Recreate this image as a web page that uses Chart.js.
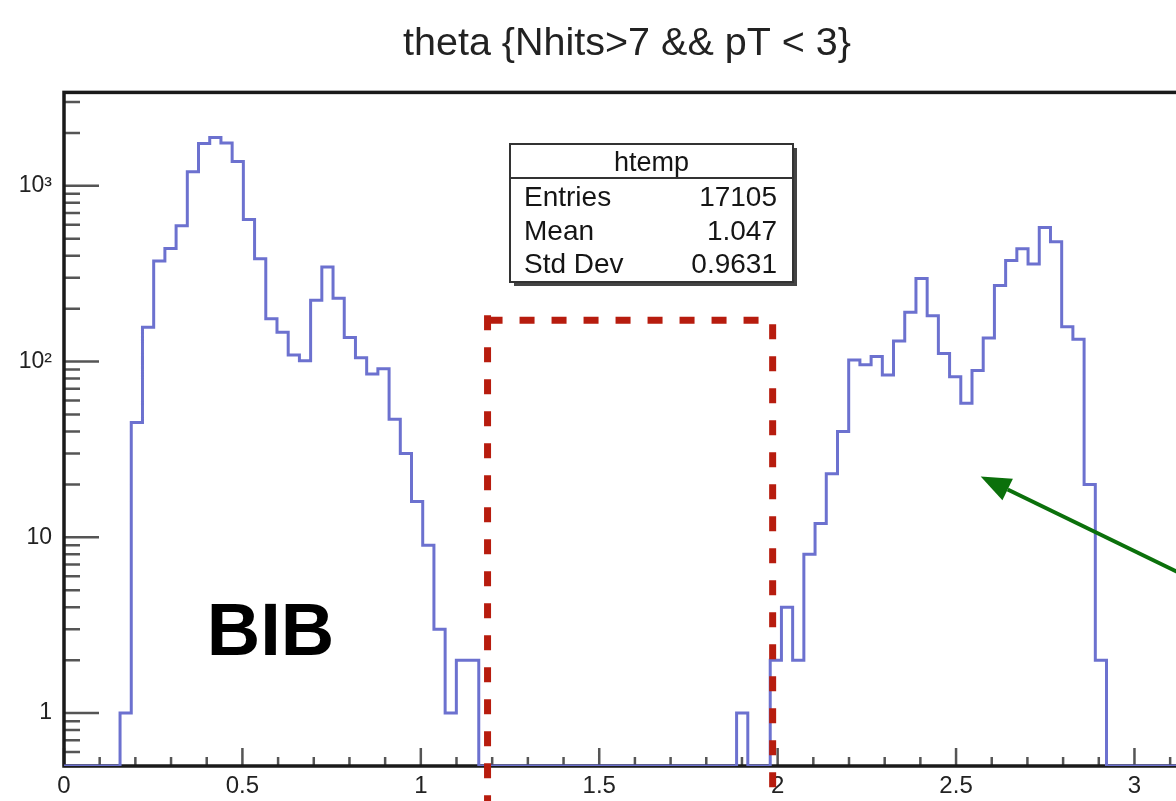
<!DOCTYPE html>
<html>
<head>
<meta charset="utf-8">
<script src="https://cdn.jsdelivr.net/npm/chart.js@4"></script>
<style>
  html, body { margin: 0; padding: 0; background: #fff; overflow: hidden; }
  #wrap { width: 1254px; height: 801px; }
</style>
</head>
<body>
<div id="wrap"><canvas id="canvas-theta" width="1254" height="801"></canvas></div>
<script>
// histogram range: 100 bins over [0, pi]
const X_MIN = 0;
const X_MAX = Math.PI;
const N_BINS = 100;
const AXIS_X_MAX = 3.335;   // frame runs past the right edge of the picture
const Y_MIN = 0.5;
const Y_MAX = 3400;

// bin contents (bins 0..99)
const COUNTS = [
  0, 0, 0, 0, 0, 1, 45, 157, 374, 440,
  593, 1201, 1738, 1884, 1755, 1374, 644, 384, 175, 147,
  109, 101, 223, 345, 229, 137, 105, 85, 91, 47,
  30, 16, 9, 3, 1, 2, 2, 0, 0, 0,
  0, 0, 0, 0, 0, 0, 0, 0, 0, 0,
  0, 0, 0, 0, 0, 0, 0, 0, 0, 0,
  1, 0, 0, 2, 4, 2, 8, 12, 23, 40,
  102, 96, 107, 84, 131, 191, 297, 182, 111, 82,
  58, 89, 136, 271, 376, 439, 359, 580, 480, 158,
  134, 20, 2, 0, 0, 0, 0, 0, 0, 0
];

const X_TICKS = [0, 0.5, 1, 1.5, 2, 2.5, 3];
const Y_TICKS = [1, 10, 100, 1000];
const Y_LABELS = ['1', '10', '10\u00B2', '10\u00B3'];

const TITLE = 'theta {Nhits>7 && pT < 3}';
const STAT_NAME = 'htemp';
const STAT_LABELS = ['Entries', 'Mean', 'Std Dev'];
const STAT_VALUES = ['17105', '1.047', '0.9631'];

// annotations (data coordinates)
const CUT_BOX = { x0: 1.187, x1: 1.986, yTop: 172 };
const ARROW = { tipX: 2.569, tipY: 22.2, tailX: 3.2, tailY: 5.3 };
const BIB_LABEL = { text: 'BIB', x: 0.40, y: 2.15 };

const FONT = '"Liberation Sans", Arial, Helvetica, sans-serif';

const binW = (X_MAX - X_MIN) / N_BINS;
const points = COUNTS.map((c, i) => ({ x: X_MIN + i * binW, y: c > 0 ? c : Y_MIN }));
points.push({ x: X_MAX, y: points[points.length - 1].y });

// ROOT style frame with inward ticks
const rootFrame = {
  id: 'rootFrame',
  beforeDatasetsDraw(chart) {
    const { ctx, chartArea: a, scales: { x, y } } = chart;
    ctx.save();
    ctx.strokeStyle = '#555';
    ctx.lineWidth = 2.5;
    ctx.beginPath();
    for (let i = 0; i <= 33; i++) {
      const px = x.getPixelForValue(i / 10);
      ctx.moveTo(px, a.bottom);
      ctx.lineTo(px, a.bottom - (i % 5 === 0 ? 18 : 9));
    }
    for (let d = -1; d <= 3; d++) {
      for (let k = 1; k <= 9; k++) {
        const v = k * Math.pow(10, d);
        if (v < Y_MIN || v > Y_MAX) continue;
        const py = y.getPixelForValue(v);
        ctx.moveTo(a.left, py);
        ctx.lineTo(a.left + (k === 1 ? 35 : 16), py);
      }
    }
    ctx.stroke();
    ctx.strokeStyle = '#1a1a1a';
    ctx.lineWidth = 3.5;
    ctx.strokeRect(a.left, a.top, a.width, a.height);
    ctx.restore();
  }
};

const annotations = {
  id: 'annotations',
  afterDraw(chart) {
    const { ctx, scales: { x, y } } = chart;
    const H = chart.height;
    ctx.save();

    // red dashed cut window
    const L = x.getPixelForValue(CUT_BOX.x0);
    const R = x.getPixelForValue(CUT_BOX.x1);
    const T = y.getPixelForValue(CUT_BOX.yTop);
    ctx.strokeStyle = '#b71c0e';
    ctx.lineWidth = 7;
    ctx.setLineDash([15, 17]);
    ctx.beginPath();
    ctx.moveTo(L, T - 5); ctx.lineTo(L, H);
    ctx.moveTo(L, T); ctx.lineTo(R, T);
    ctx.moveTo(R, T + 4); ctx.lineTo(R, H);
    ctx.stroke();
    ctx.setLineDash([]);

    // green arrow
    const tx = x.getPixelForValue(ARROW.tipX), ty = y.getPixelForValue(ARROW.tipY);
    const sx = x.getPixelForValue(ARROW.tailX), sy = y.getPixelForValue(ARROW.tailY);
    const ang = Math.atan2(ty - sy, tx - sx);
    const headLen = 30, headW = 12;
    const bx = tx - headLen * Math.cos(ang), by = ty - headLen * Math.sin(ang);
    ctx.strokeStyle = '#0b700b';
    ctx.fillStyle = '#0b700b';
    ctx.lineWidth = 4;
    ctx.beginPath();
    ctx.moveTo(sx, sy); ctx.lineTo(bx, by);
    ctx.stroke();
    ctx.beginPath();
    ctx.moveTo(tx, ty);
    ctx.lineTo(bx + headW * Math.sin(ang), by - headW * Math.cos(ang));
    ctx.lineTo(bx - headW * Math.sin(ang), by + headW * Math.cos(ang));
    ctx.closePath();
    ctx.fill();

    // BIB label
    ctx.fillStyle = '#000';
    ctx.font = 'bold 74px ' + FONT;
    ctx.textAlign = 'left';
    ctx.textBaseline = 'alphabetic';
    ctx.fillText(BIB_LABEL.text, x.getPixelForValue(BIB_LABEL.x), y.getPixelForValue(BIB_LABEL.y));

    // stats box
    const bxL = 510, bxT = 144, bxW = 283, bxH = 138;
    ctx.fillStyle = '#444';
    ctx.fillRect(bxL + 4, bxT + 4, bxW, bxH);
    ctx.fillStyle = '#fff';
    ctx.fillRect(bxL, bxT, bxW, bxH);
    ctx.strokeStyle = '#333';
    ctx.lineWidth = 2;
    ctx.strokeRect(bxL, bxT, bxW, bxH);
    ctx.beginPath();
    ctx.moveTo(bxL, bxT + 34); ctx.lineTo(bxL + bxW, bxT + 34);
    ctx.stroke();
    ctx.fillStyle = '#151515';
    ctx.font = '27px ' + FONT;
    ctx.textAlign = 'center';
    ctx.fillText(STAT_NAME, bxL + bxW / 2, bxT + 27);
    ctx.font = '28px ' + FONT;
    STAT_LABELS.forEach((lab, i) => {
      const base = bxT + 62 + i * 33.5;
      ctx.textAlign = 'left';
      ctx.fillText(lab, bxL + 14, base);
      ctx.textAlign = 'right';
      ctx.fillText(STAT_VALUES[i], bxL + bxW - 16, base);
    });
    ctx.restore();
  }
};

const ctx = document.getElementById('canvas-theta').getContext('2d');
new Chart(ctx, {
  type: 'line',
  data: {
    datasets: [{
      label: 'htemp',
      data: points,
      borderColor: '#6c71cf',
      borderWidth: 3,
      pointRadius: 0,
      stepped: true,
      fill: false,
      tension: 0
    }]
  },
  options: {
    responsive: false,
    animation: false,
    devicePixelRatio: 1,
    layout: { padding: 0 },
    scales: {
      x: {
        type: 'linear',
        min: X_MIN,
        max: AXIS_X_MAX,
        grid: { display: false, drawTicks: false },
        border: { display: false },
        afterBuildTicks: s => { s.ticks = X_TICKS.map(v => ({ value: v })); },
        afterFit: s => { s.height = 35; },
        ticks: {
          padding: 6,
          maxRotation: 0,
          autoSkip: false,
          color: '#222',
          font: { family: FONT, size: 24 },
          callback: v => String(v)
        }
      },
      y: {
        type: 'logarithmic',
        min: Y_MIN,
        max: Y_MAX,
        grid: { display: false, drawTicks: false },
        border: { display: false },
        afterBuildTicks: s => { s.ticks = Y_TICKS.map(v => ({ value: v })); },
        afterFit: s => { s.width = 64; },
        ticks: {
          padding: 12,
          autoSkip: false,
          color: '#222',
          font: { family: FONT, size: 23 },
          callback: v => Y_LABELS[Y_TICKS.indexOf(v)]
        }
      }
    },
    plugins: {
      legend: { display: false },
      tooltip: { enabled: false },
      title: {
        display: true,
        text: TITLE,
        color: '#222',
        font: { family: FONT, size: 39.5, weight: 'normal' },
        padding: { top: 20, bottom: 25 }
      }
    }
  },
  plugins: [rootFrame, annotations]
});
</script>
</body>
</html>
